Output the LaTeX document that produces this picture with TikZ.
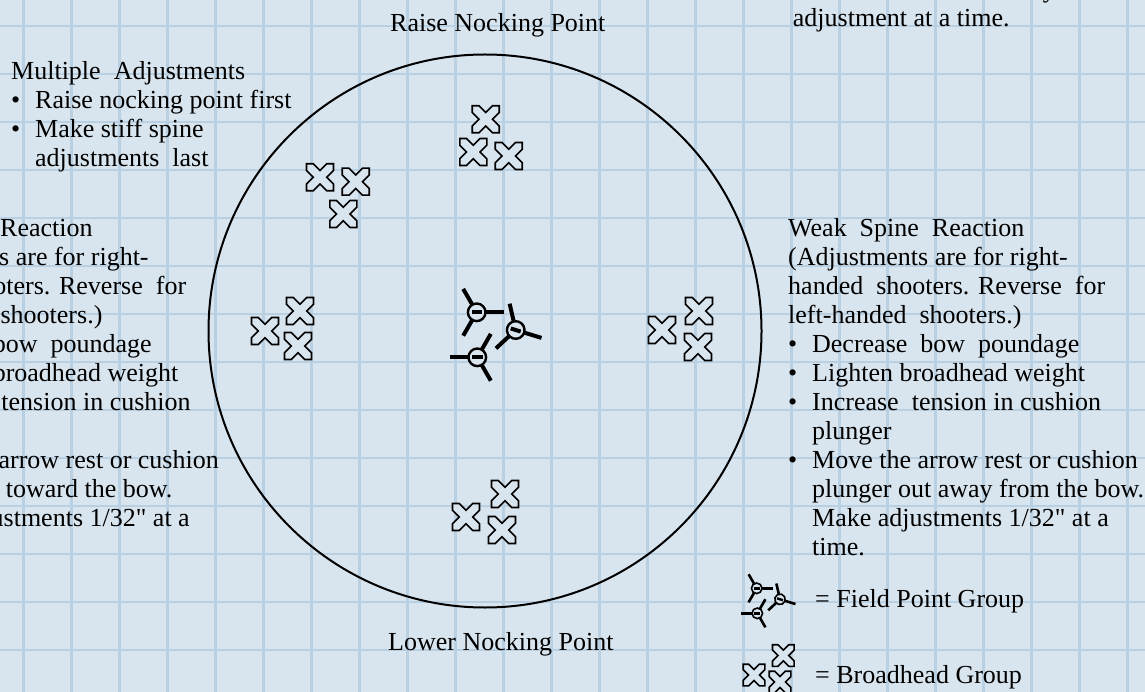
\documentclass[tikz,border=0pt]{standalone}
\usepackage{fontspec}
\setmainfont{Liberation Serif}
\definecolor{bg}{RGB}{217,229,238}
\definecolor{gridc}{RGB}{185,207,226}
\newcommand\mybul{\makebox[24pt][l]{•}}
\newcommand\myind{\hspace*{24pt}}
\tikzset{
  gridline/.style={draw=gridc, line width=2.4pt},
  txt/.style={font=\fontsize{26}{29}\selectfont, inner sep=0pt, anchor=base west, text=black},
  bhline/.style={draw=black, fill=bg, line width=1.6pt, line join=miter},
  fpline/.style={draw=black, line width=4pt},
  fpring/.style={draw=black, fill=bg, line width=2.4pt},
  bh/.pic={
    \path[bhline] (-1,1)--(-0.5,1)--(0,0.5)--(0.5,1)--(1,1)--(1,0.5)--(0.5,0)--(1,-0.5)
      --(1,-1)--(0.5,-1)--(0,-0.5)--(-0.5,-1)--(-1,-1)--(-1,-0.5)--(-0.5,0)--(-1,0.5)--cycle;
  },
  fp/.pic={
    \foreach \a in {0,120,240} \draw[fpline] (\a:8.8) -- (\a:27);
    \path[fpring] (0,0) circle (8.8);
    \fill[black] (-5.2,-2) rectangle (5.2,2);
  }
}
\begin{document}
\begin{tikzpicture}[x=1pt,y=-1pt]
\useasboundingbox (0,0) rectangle (1145,692);
\clip (0,0) rectangle (1145,692);
\fill[bg] (0,0) rectangle (1145,692);
\foreach \x in {23.5,71.5,...,1145} \draw[gridline] (\x,0) -- (\x,692);
\foreach \y in {26,74,...,692} \draw[gridline] (0,\y) -- (1145,\y);

% target circle
\node[draw=black, circle, line width=2pt, minimum size=553pt, inner sep=0pt] (target) at (485,331) {};

% labels
\node[txt] (raise) at (390,32) {Raise Nocking Point};
\node[txt] (lower) at (388,650) {Lower Nocking Point};
\node[txt, anchor=base east] (note1) at (1056,-2.3) {only};
\node[txt] (note2) at (792.7,26.7) {adjustment at a time.};

\node[txt] (multi) at (11,80) {\begin{tabular}[t]{@{}l@{}}
Multiple\ \ Adjustments\\
\mybul Raise nocking point first\\
\mybul Make stiff spine\\
\myind adjustments\ \ last
\end{tabular}};

\node[txt] (weak) at (788,237) {\begin{tabular}[t]{@{}l@{}}
Weak\ \ Spine\ \ Reaction\\
(Adjustments are for right-\\
handed\ \ shooters. Reverse\ \ for\\
left-handed\ \ shooters.)\\
\mybul Decrease\ \ bow\ \ poundage\\
\mybul Lighten broadhead weight\\
\mybul Increase\ \ tension in cushion\\
\myind plunger\\
\mybul Move the arrow rest or cushion\\
\myind plunger out away from the bow.\\
\myind Make adjustments 1/32\textquotedbl\ at a\\
\myind time.
\end{tabular}};

\node[txt] (stiff) at (-131,237) {\begin{tabular}[t]{@{}l@{}}
Stiff\ \ Spine\ \ Reaction\\
(Adjustments are for right-\\
handed\ \ shooters. Reverse\ \ for\\
left-handed\ \ shooters.)\\
\mybul Increase\ \ bow\ \ poundage\\
\mybul Increase\ \ broadhead weight\\
\mybul Decrease\ \ tension in cushion\\
\myind plunger\\
\mybul Move the arrow rest or cushion\\
\myind plunger in toward the bow.\\
\myind Make adjustments 1/32\textquotedbl\ at a\\
\myind time.
\end{tabular}};

% broadhead groups
\foreach \p in {(485.7,119.3),(473.3,152),(508.7,156),
                (320,177.3),(355.7,181.7),(343.3,214),
                (300,311),(265,331),(298,346),
                (699,311),(662,330),(698,347),
                (505,494),(466,517),(502,530)}
  \pic[scale=13.5] at \p {bh};

% field point group
\pic at (476.7,312.3) {fp};
\pic[rotate=-17] at (515.7,330) {fp};
\pic[rotate=180] at (477.3,357.3) {fp};

% legend
\begin{scope}[fpline/.style={draw=black, line width=2.6pt}, fpring/.style={draw=black, fill=bg, line width=1.6pt}]
\pic[scale=0.6] at (756.7,588.3) {fp};
\pic[scale=0.6, rotate=-17] at (780,599.3) {fp};
\pic[scale=0.6, rotate=180] at (757.3,613.3) {fp};
\end{scope}
\foreach \p in {(783.3,655.5),(754,675),(780,682)}
  \pic[scale=10.8] at \p {bh};

\node[txt] (fplegend) at (815,607) {= Field Point Group};
\node[txt] (bhlegend) at (815,683) {= Broadhead Group};
\end{tikzpicture}
\end{document}
